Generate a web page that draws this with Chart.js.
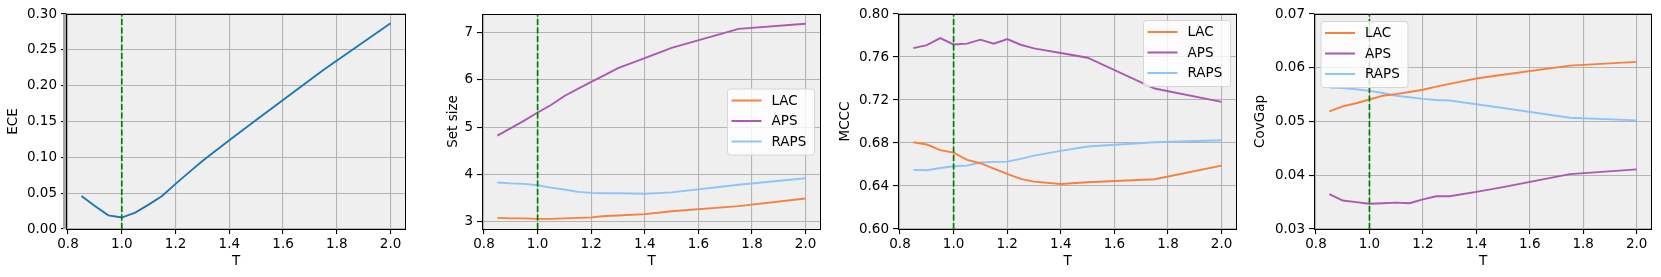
<!DOCTYPE html>
<html>
<head>
<meta charset="utf-8">
<script src="https://cdn.jsdelivr.net/npm/chart.js@4/dist/chart.umd.min.js"></script>
<style>
  html, body { margin: 0; padding: 0; background: #fff; }
  body { width: 1661px; height: 277px; position: relative; overflow: hidden; }
  .panel { position: absolute; top: 0; height: 277px; }
</style>
</head>
<body>
<div class="panel" style="left:5px;width:403px"><canvas id="c1"></canvas></div>
<div class="panel" style="left:445px;width:378px"><canvas id="c2"></canvas></div>
<div class="panel" style="left:837px;width:402px"><canvas id="c3"></canvas></div>
<div class="panel" style="left:1252px;width:402px"><canvas id="c4"></canvas></div>
<script>
const temps = [0.85, 0.9, 0.95, 1.0, 1.05, 1.1, 1.15, 1.2, 1.25, 1.3, 1.4, 1.5, 1.75, 2.0];
const xTicks = [0.8, 1.0, 1.2, 1.4, 1.6, 1.8, 2.0];
const refT = 1.0;

const ece = [0.046, 0.032, 0.019, 0.016, 0.023, 0.034, 0.046, 0.063, 0.079, 0.095, 0.124, 0.152, 0.222, 0.287];

const setLAC  = [3.08, 3.07, 3.07, 3.06, 3.06, 3.07, 3.08, 3.09, 3.12, 3.13, 3.16, 3.22, 3.33, 3.49];
const setAPS  = [4.82, 4.98, 5.14, 5.31, 5.47, 5.66, 5.81, 5.96, 6.10, 6.25, 6.46, 6.68, 7.08, 7.19];
const setRAPS = [3.83, 3.81, 3.80, 3.77, 3.72, 3.68, 3.63, 3.61, 3.60, 3.60, 3.59, 3.62, 3.78, 3.92];

const mcccLAC  = [0.6807, 0.6786, 0.6733, 0.6711, 0.6643, 0.6612, 0.6562, 0.6512, 0.6466, 0.6441, 0.6419, 0.6435, 0.6463, 0.6590];
const mcccAPS  = [0.7683, 0.7711, 0.7776, 0.7717, 0.7724, 0.7761, 0.7724, 0.7767, 0.7714, 0.7680, 0.7637, 0.7593, 0.7307, 0.7183];
const mcccRAPS = [0.6550, 0.6547, 0.6568, 0.6584, 0.6590, 0.6618, 0.6624, 0.6627, 0.6652, 0.6683, 0.6727, 0.6767, 0.6807, 0.6826];

const covLAC  = [0.0519, 0.0528, 0.0534, 0.0541, 0.0548, 0.0551, 0.0555, 0.0559, 0.0565, 0.0570, 0.0580, 0.0587, 0.0604, 0.0611];
const covAPS  = [0.0365, 0.0353, 0.0350, 0.0347, 0.0348, 0.0349, 0.0348, 0.0355, 0.0361, 0.0361, 0.0369, 0.0378, 0.0402, 0.0411];
const covRAPS = [0.0563, 0.0562, 0.0560, 0.0557, 0.0553, 0.0548, 0.0545, 0.0542, 0.0540, 0.0539, 0.0532, 0.0525, 0.0507, 0.0502];

const methods = ["LAC", "APS", "RAPS"];
const colors = { ECE: "#1f77b4", LAC: "#f8803f", APS: "#ab59b1", RAPS: "#8cc4fb" };

Chart.defaults.font.family = "'DejaVu Sans', sans-serif";
Chart.defaults.font.size = 13.5;
Chart.defaults.color = "#000";

const toPoints = (ys) => ys.map((y, i) => ({ x: temps[i], y: y }));

// axes box: grey face, black frame, optional in-plot legend
const frame = {
  id: "frame",
  beforeDraw(chart) {
    const a = chart.chartArea;
    const ctx = chart.ctx;
    ctx.save();
    ctx.fillStyle = "#efefef";
    ctx.fillRect(a.left, a.top, a.right - a.left, a.bottom - a.top);
    ctx.restore();
  },
  afterDraw(chart, args, opts) {
    const a = chart.chartArea;
    const ctx = chart.ctx;
    ctx.save();
    if (opts.leftBand) {
      ctx.fillStyle = "#a8a8a8";
      ctx.fillRect(a.left - 3, a.top, 3, a.bottom - a.top);
    }
    ctx.strokeStyle = "#000";
    ctx.lineWidth = 1;
    ctx.strokeRect(Math.round(a.left) + 0.5, Math.round(a.top) + 0.5,
      Math.round(a.right - a.left) - 1, Math.round(a.bottom - a.top));

    if (opts.legend) {
      const w = 87, h = 66;
      let x, y;
      if (opts.legend === "center right") { x = a.right - 7 - w; y = (a.top + a.bottom) / 2 - h / 2; }
      else if (opts.legend === "upper right") { x = a.right - 7 - w; y = a.top + 6; }
      else { x = a.left + 6.5; y = a.top + 7; }
      ctx.beginPath();
      ctx.roundRect(x + 0.5, y + 0.5, w, h, 3);
      ctx.fillStyle = "rgba(255,255,255,0.8)";
      ctx.fill();
      ctx.strokeStyle = "#d6d6d6";
      ctx.stroke();
      ctx.font = "13.5px 'DejaVu Sans', sans-serif";
      ctx.textBaseline = "middle";
      ctx.fillStyle = "#000";
      methods.forEach((m, i) => {
        const ry = y + 12 + i * 20.5;
        ctx.beginPath();
        ctx.moveTo(x + 4.5, ry);
        ctx.lineTo(x + 34.5, ry);
        ctx.strokeStyle = colors[m];
        ctx.lineWidth = 2;
        ctx.stroke();
        ctx.fillText(m, x + 44.5, ry + 0.5);
      });
    }
    ctx.restore();
  },
};

function makeChart(id, cfg) {
  const datasets = cfg.series.map((s) => ({
    label: s.name,
    data: toPoints(s.values),
    borderColor: colors[s.name],
    borderWidth: 1.9,
    pointRadius: 0,
    tension: 0,
    fill: false,
  }));
  datasets.push({
    label: "T=1",
    data: [{ x: refT, y: cfg.yMin }, { x: refT, y: cfg.yMax }],
    borderColor: "#008000",
    borderWidth: 1.7,
    borderDash: [6, 2.5],
    pointRadius: 0,
    order: -1,
  });

  return new Chart(document.getElementById(id), {
    type: "line",
    data: { datasets: datasets },
    plugins: [frame],
    options: {
      responsive: true,
      maintainAspectRatio: false,
      animation: false,
      events: [],
      layout: { padding: { top: 14, right: 2, left: 0, bottom: 0 } },
      plugins: {
        legend: { display: false },
        tooltip: { enabled: false },
        frame: { legend: cfg.legend, leftBand: cfg.leftBand },
      },
      scales: {
        x: {
          type: "linear",
          min: 0.7925,
          max: 2.0575,
          afterBuildTicks: (axis) => {
            axis.ticks = xTicks.map((v) => ({ value: v }));
          },
          afterFit: (axis) => {
            axis.height = 48;
          },
          ticks: {
            padding: 2,
            autoSkip: false,
            maxRotation: 0,
            callback: (v) => v.toFixed(1),
          },
          grid: { color: "#b4b4b4", lineWidth: 1.1, tickLength: 5, tickColor: "#000" },
          border: { display: false },
          title: { display: true, text: "T", padding: { top: 0, bottom: 7 } },
        },
        y: {
          min: cfg.yMin,
          max: cfg.yMax,
          afterBuildTicks: (axis) => {
            axis.ticks = cfg.yTicks.map((v) => ({ value: v }));
          },
          afterFit: (axis) => {
            axis.width = cfg.axisWidth;
          },
          ticks: {
            padding: 4,
            autoSkip: false,
            callback: (v) => v.toFixed(cfg.digits),
          },
          grid: { color: "#b4b4b4", lineWidth: 1.1, tickLength: 5, tickColor: "#000" },
          border: { display: false },
          title: { display: true, text: cfg.yTitle, padding: { top: 0, bottom: 0 } },
        },
      },
    },
  });
}

makeChart("c1", {
  series: [{ name: "ECE", values: ece }],
  yMin: 0, yMax: 0.30,
  yTicks: [0, 0.05, 0.10, 0.15, 0.20, 0.25, 0.30],
  digits: 2, yTitle: "ECE", axisWidth: 61, leftBand: true,
});
makeChart("c2", {
  series: [
    { name: "LAC", values: setLAC },
    { name: "APS", values: setAPS },
    { name: "RAPS", values: setRAPS },
  ],
  yMin: 2.845, yMax: 7.395,
  yTicks: [3, 4, 5, 6, 7],
  digits: 0, yTitle: "Set size", axisWidth: 37, legend: "center right",
});
makeChart("c3", {
  series: [
    { name: "LAC", values: mcccLAC },
    { name: "APS", values: mcccAPS },
    { name: "RAPS", values: mcccRAPS },
  ],
  yMin: 0.60, yMax: 0.80,
  yTicks: [0.60, 0.64, 0.68, 0.72, 0.76, 0.80],
  digits: 2, yTitle: "MCCC", axisWidth: 61, legend: "upper right",
});
makeChart("c4", {
  series: [
    { name: "LAC", values: covLAC },
    { name: "APS", values: covAPS },
    { name: "RAPS", values: covRAPS },
  ],
  yMin: 0.03, yMax: 0.07,
  yTicks: [0.03, 0.04, 0.05, 0.06, 0.07],
  digits: 2, yTitle: "CovGap", axisWidth: 62, legend: "upper left",
});
</script>
</body>
</html>
